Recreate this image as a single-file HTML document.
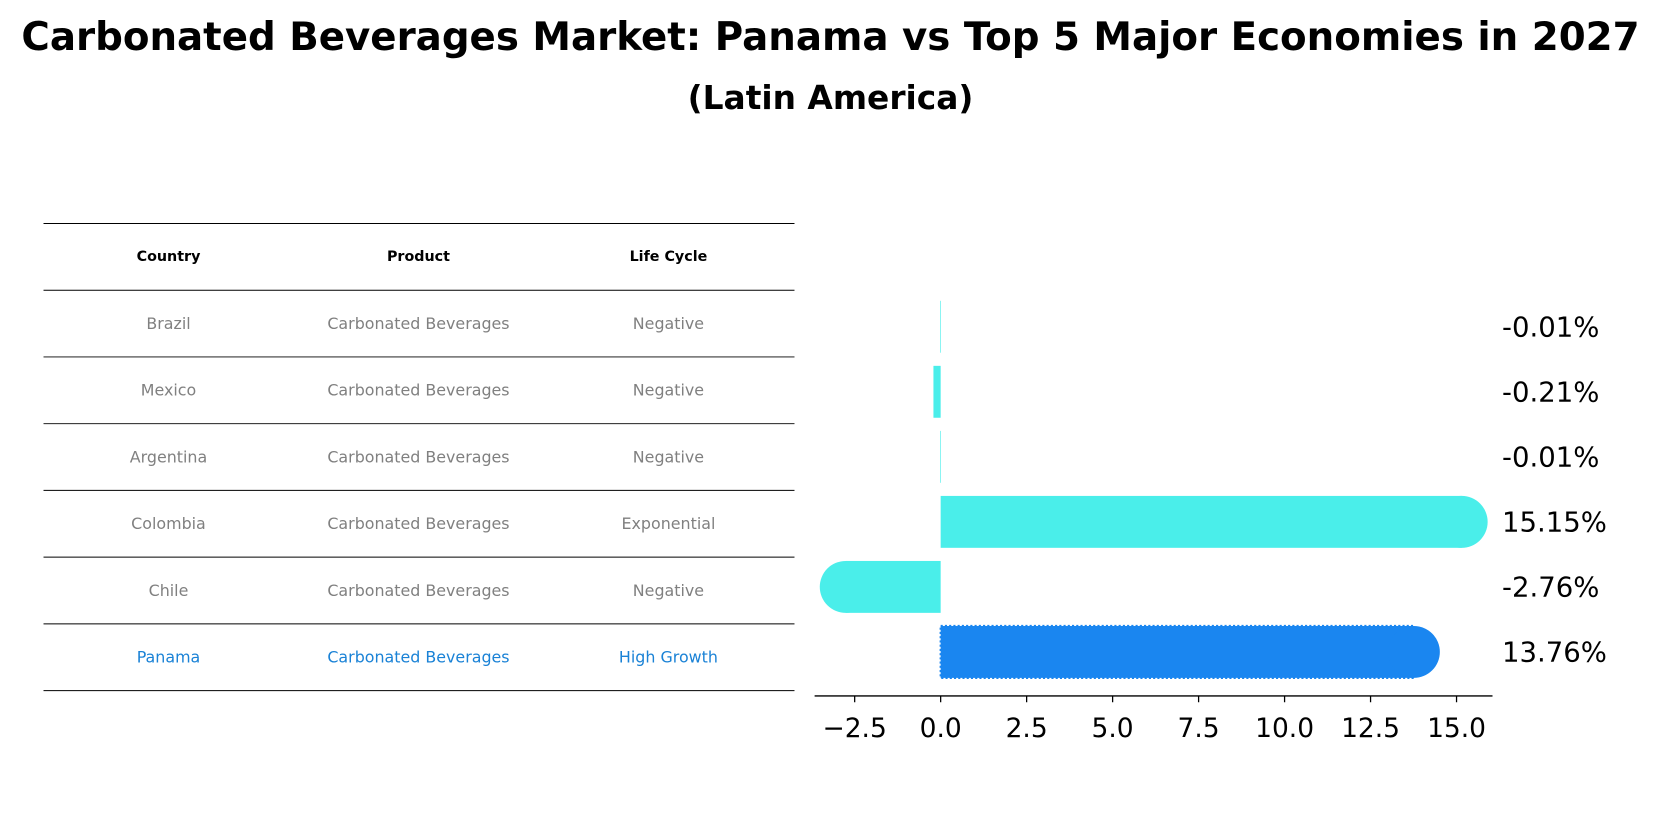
<!DOCTYPE html>
<html><head><meta charset="utf-8"><style>
body{margin:0;background:#fff;font-family:"Liberation Sans","DejaVu Sans",sans-serif;}
#wrap{position:relative;width:1661px;height:823px;overflow:hidden;}
</style></head><body>
<div id="wrap">
<svg id="svg" width="1661" height="823" viewBox="0 0 1568 777" style="position:absolute;left:0;top:0">
<text x="784" y="47" text-anchor="middle" font-size="36.6" font-weight="bold" font-family="DejaVu Sans, sans-serif">Carbonated Beverages Market: Panama vs Top 5 Major Economies in 2027</text>
<text x="784" y="103" text-anchor="middle" font-size="31" font-weight="bold" font-family="DejaVu Sans, sans-serif">(Latin America)</text>
</svg>
</div>
<script>
const countries=["Brazil","Mexico","Argentina","Colombia","Chile","Panama"];
const products=["Carbonated Beverages","Carbonated Beverages","Carbonated Beverages","Carbonated Beverages","Carbonated Beverages","Carbonated Beverages"];
const lifeCycles=["Negative","Negative","Negative","Exponential","Negative","High Growth"];
const growth=[-0.01,-0.21,-0.01,15.15,-2.76,13.76];
const valueLabels=["-0.01%","-0.21%","-0.01%","15.15%","-2.76%","13.76%"];
const xTicks=[-2.5,0.0,2.5,5.0,7.5,10.0,12.5,15.0];
const svg=document.getElementById('svg');
const NS='http://www.w3.org/2000/svg';
function mk(tag,attrs,txt){const e=document.createElementNS(NS,tag);for(const k in attrs)e.setAttribute(k,attrs[k]);if(txt!==undefined)e.textContent=txt;svg.appendChild(e);return e;}
const xs=v=>888+v*32.47;
const rowTop=i=>284+i*61.4;
const barH=49;
const colX=[159,395,631];
const lineY=i=>211+i*63.0;
for(let i=0;i<8;i++){const l=mk('line',{x1:41,x2:750,y1:lineY(i),y2:lineY(i),stroke:'#000','stroke-width':0.9});

}
const hdr=["Country","Product","Life Cycle"];
hdr.forEach((h,j)=>{const t=mk('text',{x:colX[j],y:lineY(0)+35.5,'text-anchor':'middle','font-size':13.5,'font-weight':'bold','font-family':'DejaVu Sans, sans-serif'},h);

});
countries.forEach((c,i)=>{const col=i===5?'#1a82d6':'#808080';
[c,products[i],lifeCycles[i]].forEach((v,j)=>{const t=mk('text',{x:colX[j],y:lineY(i+1)+36.5,'text-anchor':'middle','font-size':15,fill:col,'font-family':'DejaVu Sans, sans-serif'},v);

});});
growth.forEach((v,i)=>{const y=rowTop(i);const fill=i===5?'#1a86f0':'#4aeeea';
const x0=Math.min(xs(0),xs(v)),w=Math.abs(xs(v)-xs(0));
const r=mk('rect',{x:x0,y:y,width:Math.max(w,0.6),height:barH,fill:fill});
if(i===5){r.setAttribute('stroke','#1a86f0');r.setAttribute('stroke-dasharray','2,2');r.setAttribute('stroke-width',2);}


if(Math.abs(v)>1){const c=mk('circle',{cx:xs(v),cy:y+barH/2,r:barH/2,fill:fill});

}
const t=mk('text',{x:1418,y:y+barH/2+9,'font-size':26,'font-family':'DejaVu Sans, sans-serif'},valueLabels[i]);

});
const ax=mk('line',{x1:769,x2:1409,y1:657,y2:657,stroke:'#000','stroke-width':1.3});


xTicks.forEach(v=>{const l=mk('line',{x1:xs(v),x2:xs(v),y1:657,y2:663,stroke:'#000','stroke-width':1.2});


const t=mk('text',{x:xs(v),y:696,'text-anchor':'middle','font-size':25,'font-family':'DejaVu Sans, sans-serif'},v.toFixed(1).replace('-','\u2212'));

});
</script>
</body></html>
